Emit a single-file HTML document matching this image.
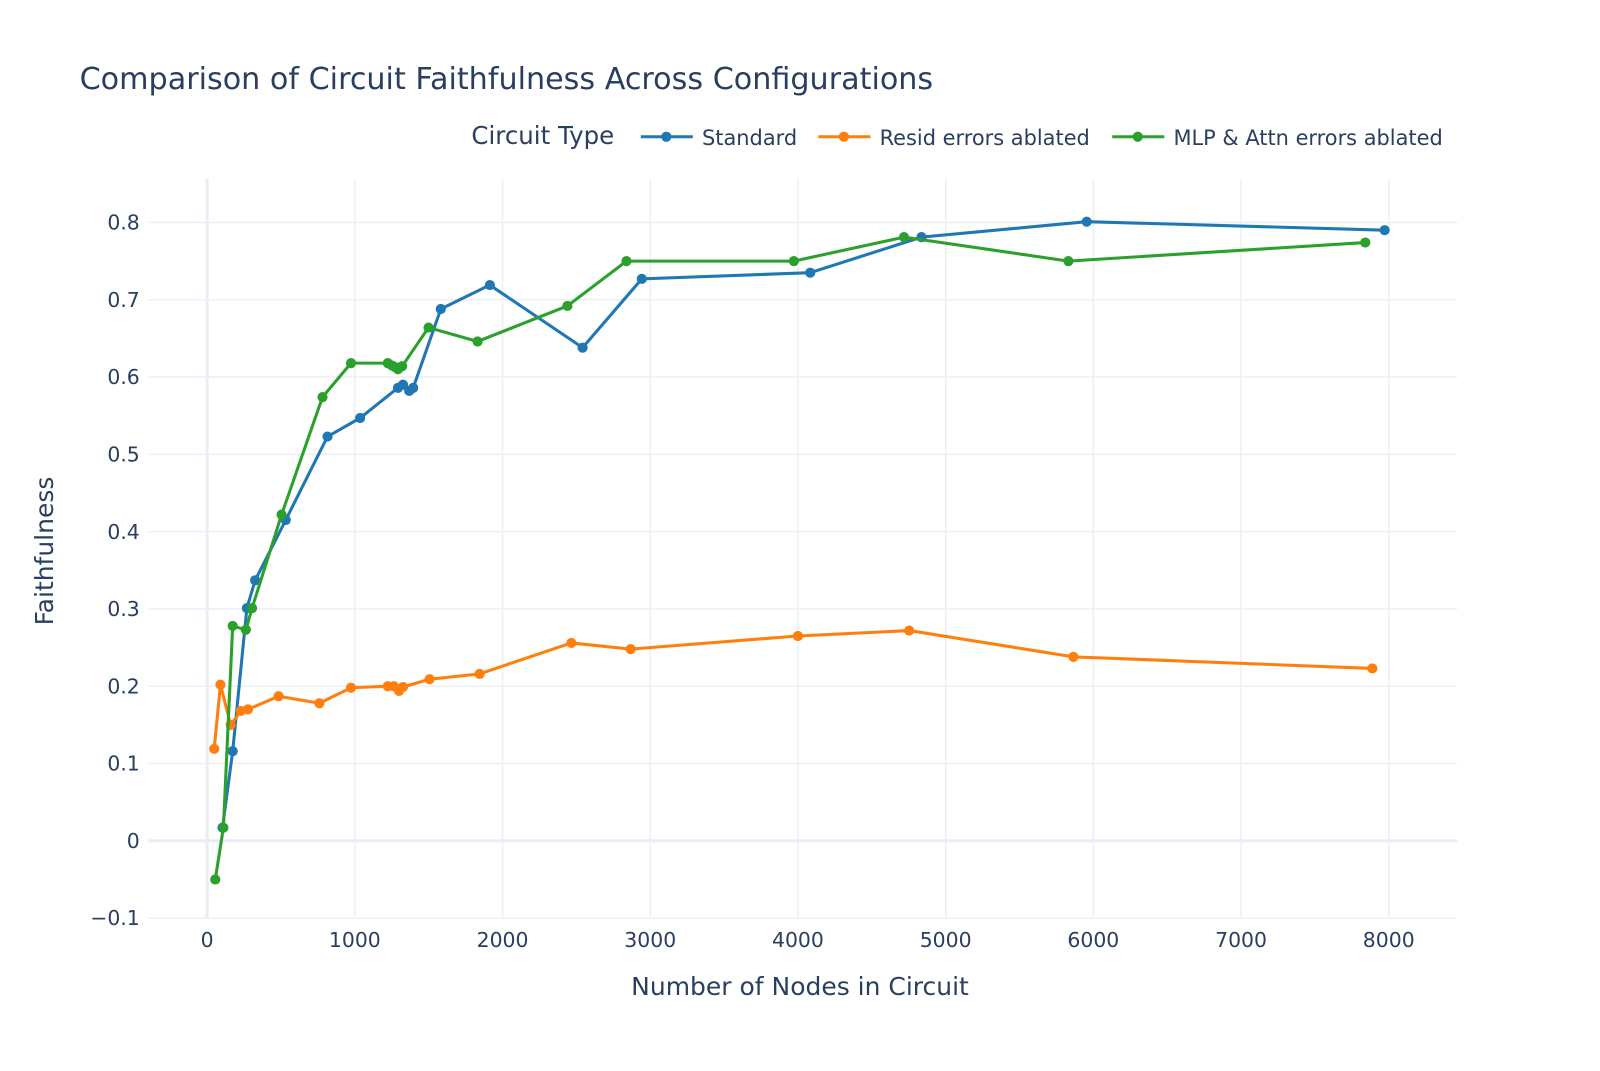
<!DOCTYPE html>
<html><head><meta charset="utf-8"><style>
body{margin:0;background:#fff;font-family:"Liberation Sans","DejaVu Sans",sans-serif;}
svg text{fill:#2a3f5f;font-family:"DejaVu Sans","Liberation Sans",sans-serif;}
</style></head><body>
<svg id="chart" width="1600" height="1066" xmlns="http://www.w3.org/2000/svg">
<g transform="scale(1.0204)">
<text x="78" y="87" font-size="29.6" style="fill:#2a3f5f">Comparison of Circuit Faithfulness Across Configurations</text>
<g id="grid"></g><g id="axes"></g><g id="series"></g><g id="legend"></g>
<text x="784" y="975" font-size="24.5" text-anchor="middle">Number of Nodes in Circuit</text>
<text transform="translate(52,540) rotate(-90)" font-size="24.5" text-anchor="middle">Faithfulness</text>
</g>
</svg>
<script>
const xTicks=[0,1000,2000,3000,4000,5000,6000,7000,8000];
const yTicks=[-0.1,0,0.1,0.2,0.3,0.4,0.5,0.6,0.7,0.8];
const seriesNames=["Standard","Resid errors ablated","MLP & Attn errors ablated"];
const stdX=[104,173,269,325,532,815,1036,1292,1326,1368,1395,1582,1914,2542,2943,4083,4836,5955,7972];
const stdY=[0.017,0.116,0.301,0.337,0.415,0.523,0.547,0.586,0.590,0.582,0.586,0.688,0.719,0.638,0.727,0.735,0.781,0.801,0.79];
const residX=[48,90,159,228,276,484,760,974,1223,1264,1299,1326,1506,1845,2466,2867,4000,4753,5865,7889];
const residY=[0.119,0.202,0.150,0.168,0.170,0.187,0.178,0.198,0.2,0.2,0.194,0.199,0.209,0.216,0.256,0.248,0.265,0.272,0.238,0.223];
const mlpX=[55,110,173,262,304,504,781,974,1223,1250,1271,1292,1320,1499,1831,2439,2839,3972,4718,5831,7841];
const mlpY=[-0.05,0.017,0.278,0.273,0.301,0.422,0.574,0.618,0.618,0.615,0.613,0.610,0.614,0.664,0.646,0.692,0.75,0.75,0.781,0.75,0.774];
const colors=["#1f77b4","#ff7f0e","#2ca02c"];
const NS="http://www.w3.org/2000/svg";
const L=145,R=1428,T=175,B=900;
const xs=v=>203+v*0.14475;
const ys=v=>824-v*757.5;
function mk(tag,parent,attrs){const e=document.createElementNS(NS,tag);for(const k in attrs)e.setAttribute(k,attrs[k]);document.getElementById(parent).appendChild(e);return e;}
xTicks.forEach(t=>{
 const g=mk('line','grid',{x1:xs(t),x2:xs(t),y1:T,y2:B,stroke:t===0?'#e8edf5':'#ebf0f8','stroke-width':t===0?3:1.5});
 
 
 const tx=mk('text','axes',{x:xs(t),y:928,'font-size':20,'text-anchor':'middle'});
 tx.textContent=t;
 
 
});
yTicks.forEach(t=>{
 const g=mk('line','grid',{x1:L,x2:R,y1:ys(t),y2:ys(t),stroke:t===0?'#e8edf5':'#ebf0f8','stroke-width':t===0?3:1.5});
 
 
 const tx=mk('text','axes',{x:137,y:ys(t)+7,'font-size':20,'text-anchor':'end'});
 tx.textContent=t===0?'0':(t<0?'\u2212'+Math.abs(t).toFixed(1):t.toFixed(1));
 
 
});
[[stdX,stdY],[residX,residY],[mlpX,mlpY]].forEach((s,i)=>{
 const pts=s[0].map((x,j)=>xs(x)+','+ys(s[1][j])).join(' ');
 const pl=mk('polyline','series',{points:pts,fill:'none',stroke:colors[i],'stroke-width':3,'stroke-linejoin':'round'});
 
 
 s[0].forEach((x,j)=>{
  const c=mk('circle','series',{cx:xs(x),cy:ys(s[1][j]),r:5,fill:colors[i]});
  
  
 });
});
const lt=mk('text','legend',{x:462,y:141,'font-size':24});
lt.textContent='Circuit Type';


const lx=[628,802,1090];
seriesNames.forEach((n,i)=>{
 const ln=mk('line','legend',{x1:lx[i],x2:lx[i]+51,y1:134,y2:134,stroke:colors[i],'stroke-width':3});
 
 
 const c=mk('circle','legend',{cx:lx[i]+25,cy:134,r:5,fill:colors[i]});
 
 
 const t=mk('text','legend',{x:lx[i]+60,y:142,'font-size':20.5});
 t.textContent=n;
 
 
});
</script>
</body></html>
